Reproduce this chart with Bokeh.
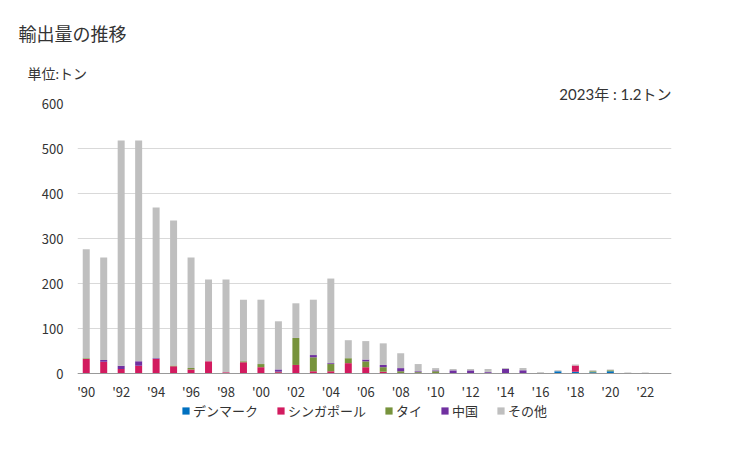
from bokeh.plotting import figure
from bokeh.models import ColumnDataSource, Title, Legend, LegendItem, FixedTicker, Range1d
from bokeh.embed import file_html
from bokeh.resources import INLINE

years = list(range(1990, 2024))
denmark   = [0,0,0,0,0,0,0,0,0,0,0,0,0,0,0,0,0,0,0,0,0,0,0,0,0,0,0,5,4,3,5,0,0,0]
singapore = [32,26,10,17,32,16,9,27,3,25,14,3,19,5,5,23,14,4,0,0,0,0,0,0,0,0,0,0,14,0,0,0,0,0]
thai      = [2,0,0,0,0,2,3,0,0,2,7,1,60,31,16,11,13,10,5,3,5,0,0,0,0,0,0,0,0,2,2,0,0,0]
china     = [0,4,7,10,2,0,0,0,0,0,0,5,0,5,2,0,4,5,7,2,2,7,7,3,10,7,0,0,0,0,0,0,0,0]
other     = [242,228,501,491,335,322,246,182,206,137,143,107,77,123,188,40,41,48,33,16,5,3,3,7,2,5,3,2,2,2,2,2,2,1.2]

series = ["デンマーク", "シンガポール", "タイ", "中国", "その他"]
colors = ["#0070C0", "#D21B5F", "#77933C", "#7030A0", "#BFBFBF"]
tick_years = list(range(1990, 2023, 2))
tick_labels = ["'" + str(y)[2:] for y in tick_years]

FONT = "Noto Sans CJK JP"
SMALL = "Lato, 'Noto Sans CJK JP'"

src = ColumnDataSource(dict(year=years, d=denmark, s=singapore, t=thai, c=china, o=other))

# frame extends below the zero line so that the legend can sit inside it
p = figure(output_backend="svg", toolbar_location=None,
           x_range=Range1d(1989.5, 2023.5), y_range=Range1d(-104.44, 600),
           frame_width=594, frame_height=317,
           min_border_left=77, min_border_right=58, min_border_top=103, min_border_bottom=0)
p.outline_line_color = None
p.background_fill_color = "white"

renderers = p.vbar_stack(["d", "s", "t", "c", "o"], x="year", width=0.4, color=colors,
                         source=src, line_color=None)

p.xgrid.grid_line_color = None
p.ygrid.grid_line_color = "#D9D9D9"
p.ygrid.grid_line_width = 1
p.yaxis.ticker = FixedTicker(ticks=[0, 100, 200, 300, 400, 500, 600])
p.yaxis.axis_line_color = None
p.yaxis.major_tick_line_color = None
p.yaxis.minor_tick_line_color = None
p.yaxis.major_tick_out = 0
p.yaxis.minor_tick_out = 0
p.yaxis.major_label_text_font = FONT
p.yaxis.major_label_text_font_size = "13px"
p.yaxis.major_label_text_color = "#333333"
p.yaxis.major_label_standoff = 14

p.xaxis.fixed_location = 0
p.xaxis.ticker = FixedTicker(ticks=tick_years)
p.xaxis.major_label_overrides = {y: l for y, l in zip(tick_years, tick_labels)}
p.xaxis.axis_line_color = "#999999"
p.xaxis.major_tick_line_color = None
p.xaxis.minor_tick_line_color = None
p.xaxis.major_tick_out = 0
p.xaxis.minor_tick_out = 0
p.xaxis.major_label_text_font = FONT
p.xaxis.major_label_text_font_size = "13px"
p.xaxis.major_label_text_color = "#333333"
p.xaxis.major_label_standoff = 8

legend = Legend(items=[LegendItem(label=n, renderers=[r]) for n, r in zip(series, renderers)],
                orientation="horizontal", location=(104, 0),
                label_text_font=SMALL, label_text_font_size="13px", label_text_color="#333333",
                label_height=14, glyph_width=9, glyph_height=9, spacing=18, label_standoff=3,
                border_line_color=None, background_fill_alpha=0, margin=0, padding=2)
p.add_layout(legend)

p.title.text = "輸出量の推移"
p.title.text_font = FONT
p.title.text_font_size = "18px"
p.title.text_font_style = "normal"
p.title.text_color = "#333333"
p.title.align = "left"
p.title.offset = -59
p.title.standoff = 34

t_val = Title(text="2023年 : 1.2トン", align="right", text_font=SMALL, text_font_size="15px",
              text_font_style="normal", text_color="#333333", standoff=2, offset=0,
              vertical_align="bottom", text_line_height=0.75)
t_unit = Title(text="単位:トン", align="left", text_font=SMALL, text_font_size="14px",
               text_font_style="normal", text_color="#333333", standoff=0, offset=-50,
               vertical_align="bottom", text_line_height=0.9)
p.add_layout(t_val, "above")
p.add_layout(t_unit, "above")

open("out.html", "w").write(file_html(p, INLINE))
